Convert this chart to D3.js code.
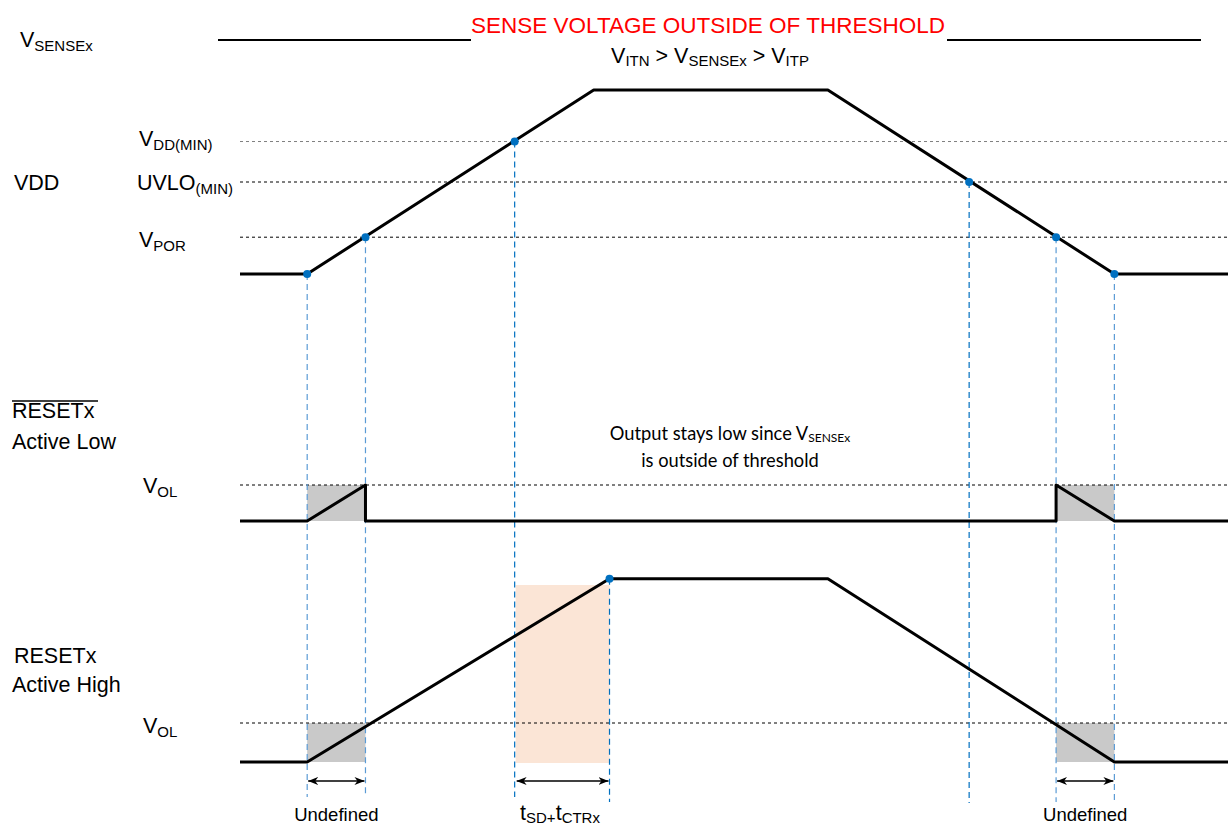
<!DOCTYPE html>
<html>
<head>
<meta charset="utf-8">
<script src="https://cdn.jsdelivr.net/npm/d3@7"></script>
<style>
  body { margin: 0; background: #fff; }
</style>
</head>
<body>
<div id="chart"></div>
<script>
// event times (arbitrary units, 0..100 across the waveform area)
const tStart = 0, tEnd = 100;
const tRampUp = 6.8;       // VDD starts rising
const tPor = 12.7;         // VDD crosses VPOR (rising)
const tVddMin = 27.8;      // VDD crosses VDD(MIN)
const tTop = 35.8;         // VDD reaches full level
const tResetHigh = 37.4;   // RESETx active high reaches top
const tFall = 59.5;        // VDD starts falling
const tUvlo = 73.8;        // VDD crosses UVLO(MIN) (falling)
const tPorDown = 82.6;     // VDD crosses VPOR (falling)
const tOff = 88.5;         // VDD back to 0

// VDD levels (V)
const vddLevels = { VPOR: 1.0, UVLO: 2.5, VDDMIN: 3.6, TOP: 5.0 };
const vddWave = [[tStart, 0], [tRampUp, 0], [tTop, 5.0], [tFall, 5.0], [tOff, 0], [tEnd, 0]];

// RESETx active low (VOL = 1)
const rstLowWave = [[tStart, 0], [tRampUp, 0], [tPor, 1], [tPor, 0], [tPorDown, 0], [tPorDown, 1], [tOff, 0], [tEnd, 0]];
// RESETx active high (VOL = 1, top = 4.7)
const rstHighWave = [[tStart, 0], [tRampUp, 0], [tResetHigh, 4.7], [tFall, 4.7], [tOff, 0], [tEnd, 0]];

const undefinedWindows = [[tRampUp, tPor], [tPorDown, tOff]];
const delayWindow = [27.9, tResetHigh];

const W = 1228, H = 827;
const FONT = '"Liberation Sans", Arimo, Arial, sans-serif';
const svg = d3.select('#chart').append('svg')
  .attr('width', W).attr('height', H)
  .attr('font-family', FONT)
  .style('display', 'block');

const x = d3.scaleLinear().domain([0, 100]).range([240, 1228]);
const yVdd = d3.scaleLinear().domain([0, 5]).range([274, 90]);
const yLow = d3.scaleLinear().domain([0, 1]).range([521, 485]);
const yHigh = d3.scaleLinear().domain([0, 1]).range([762, 723]);

const line = y => d3.line().x(d => x(d[0])).y(d => y(d[1]));

// fills first
const fills = svg.append('g');
fills.append('rect')
  .attr('x', x(delayWindow[0])).attr('width', x(delayWindow[1]) - x(delayWindow[0]))
  .attr('y', 585).attr('height', 178)
  .attr('fill', '#fbe5d6');
undefinedWindows.forEach(w => {
  [yLow, yHigh].forEach(y => {
    fills.append('rect')
      .attr('x', x(w[0])).attr('width', x(w[1]) - x(w[0]))
      .attr('y', y(1)).attr('height', y(0) - y(1))
      .attr('fill', '#c9c9c9');
  });
});

// horizontal dashed threshold lines
const hLines = [
  { y: yVdd(vddLevels.VDDMIN), color: '#7f7f7f' },
  { y: yVdd(vddLevels.UVLO), color: '#000' },
  { y: yVdd(vddLevels.VPOR), color: '#000' },
  { y: yLow(1), color: '#000' },
  { y: yHigh(1), color: '#000' }
];
svg.append('g').selectAll('line').data(hLines).join('line')
  .attr('x1', x(0)).attr('x2', x(100))
  .attr('y1', d => d.y).attr('y2', d => d.y)
  .attr('stroke', d => d.color).attr('stroke-width', 1)
  .attr('stroke-dasharray', '3,3');

// vertical blue dashed markers
const vLines = [
  { t: tRampUp, y1: yVdd(0), y2: 797, c: '#5b9bd5' },
  { t: tPor, y1: yVdd(vddLevels.VPOR), y2: 797, c: '#5b9bd5' },
  { t: tVddMin, y1: yVdd(vddLevels.VDDMIN), y2: 797, c: '#0070c0' },
  { t: tResetHigh, y1: yHigh(4.7), y2: 802, c: '#0070c0' },
  { t: tUvlo, y1: yVdd(vddLevels.UVLO), y2: 803, c: '#0070c0' },
  { t: tPorDown, y1: yVdd(vddLevels.VPOR), y2: 802, c: '#5b9bd5' },
  { t: tOff, y1: yVdd(0), y2: 802, c: '#5b9bd5' }
];
svg.append('g').selectAll('line').data(vLines).join('line')
  .attr('x1', d => x(d.t)).attr('x2', d => x(d.t))
  .attr('y1', d => d.y1).attr('y2', d => d.y2)
  .attr('stroke', d => d.c).attr('stroke-width', 1.2)
  .attr('stroke-dasharray', '6,4');

// waveforms
[[vddWave, yVdd], [rstLowWave, yLow], [rstHighWave, yHigh]].forEach(([wave, y]) => {
  svg.append('path').datum(wave)
    .attr('d', line(y))
    .attr('fill', 'none').attr('stroke', '#000').attr('stroke-width', 3)
    .attr('stroke-linejoin', 'round');
});

// VSENSE line
svg.append('line').attr('x1', 218).attr('x2', 471).attr('y1', 40).attr('y2', 40)
  .attr('stroke', '#000').attr('stroke-width', 2);
svg.append('line').attr('x1', 947).attr('x2', 1201).attr('y1', 40).attr('y2', 40)
  .attr('stroke', '#000').attr('stroke-width', 2);

// dots
const dots = [
  [tRampUp, yVdd(0)], [tPor, yVdd(vddLevels.VPOR)], [tVddMin, yVdd(vddLevels.VDDMIN)],
  [tUvlo, yVdd(vddLevels.UVLO)], [tPorDown, yVdd(vddLevels.VPOR)], [tOff, yVdd(0)],
  [tResetHigh, yHigh(4.7)]
];
svg.append('g').selectAll('circle').data(dots).join('circle')
  .attr('cx', d => x(d[0])).attr('cy', d => d[1]).attr('r', 4)
  .attr('fill', '#0070c0');

// arrows
const defs = svg.append('defs');
['start', 'end'].forEach(k => {
  defs.append('marker').attr('id', 'arr-' + k)
    .attr('viewBox', '0 0 10 10').attr('refX', k === 'end' ? 10 : 0).attr('refY', 5)
    .attr('markerWidth', 10).attr('markerHeight', 10).attr('markerUnits', 'userSpaceOnUse')
    .attr('orient', 'auto')
    .append('path')
    .attr('d', k === 'end' ? 'M0,1 L10,5 L0,9 L3,5 Z' : 'M10,1 L0,5 L10,9 L7,5 Z')
    .attr('fill', '#000');
});
const arrows = [[tRampUp, tPor], [delayWindow[0], tResetHigh], [tPorDown, tOff]];
svg.append('g').selectAll('line').data(arrows).join('line')
  .attr('x1', d => x(d[0]) + 1).attr('x2', d => x(d[1]) - 1)
  .attr('y1', 781).attr('y2', 781)
  .attr('stroke', '#000').attr('stroke-width', 1.3)
  .attr('marker-start', 'url(#arr-start)').attr('marker-end', 'url(#arr-end)');

// text helpers
function label(xp, yp, main, sub, opts = {}) {
  const t = svg.append('text').attr('x', xp).attr('y', yp)
    .attr('font-size', opts.size || 21.5).attr('fill', opts.fill || '#000')
    .attr('text-anchor', opts.anchor || 'start');
  t.append('tspan').text(main);
  if (sub) t.append('tspan').attr('font-size', opts.subSize || 15).attr('dy', 4).text(sub);
  return t;
}

label(20, 47, 'V', 'SENSEx');
svg.append('text').attr('x', 708).attr('y', 33).attr('text-anchor', 'middle')
  .attr('font-size', 22.5).attr('fill', '#ff0000').text('SENSE VOLTAGE OUTSIDE OF THRESHOLD');
const cmp = svg.append('text').attr('x', 710).attr('y', 63).attr('text-anchor', 'middle').attr('font-size', 21.5);
cmp.append('tspan').text('V');
cmp.append('tspan').attr('font-size', 15).attr('dy', 3).text('ITN');
cmp.append('tspan').attr('dy', -3).text(' > V');
cmp.append('tspan').attr('font-size', 15).attr('dy', 3).text('SENSEx');
cmp.append('tspan').attr('dy', -3).text(' > V');
cmp.append('tspan').attr('font-size', 15).attr('dy', 3).text('ITP');

label(14, 190, 'VDD');
label(139, 146, 'V', 'DD(MIN)');
label(137, 190, 'UVLO', '(MIN)');
label(139, 247, 'V', 'POR');

// RESETx active low with overline
svg.append('text').attr('x', 12).attr('y', 418).attr('font-size', 21.5).text('RESETx');
svg.append('line').attr('x1', 12).attr('x2', 98).attr('y1', 401).attr('y2', 401)
  .attr('stroke', '#000').attr('stroke-width', 1.5);
label(12, 449, 'Active Low');
label(143, 493, 'V', 'OL');

const note = svg.append('text').attr('text-anchor', 'middle')
  .attr('font-family', 'Lato, "Open Sans", sans-serif').attr('font-size', 18.3);
const n1 = note.append('tspan').attr('x', 730).attr('y', 440);
n1.append('tspan').text('Output stays low since V');
n1.append('tspan').attr('font-size', 12).attr('dy', 2).text('SENSEx');
note.append('tspan').attr('x', 730).attr('y', 467).text('is outside of threshold');

label(14, 663, 'RESETx');
label(12, 692, 'Active High');
label(143, 733, 'V', 'OL');

// bottom labels
svg.append('text').attr('x', x(9.75)).attr('y', 821).attr('text-anchor', 'middle')
  .attr('font-size', 18.5).text('Undefined');
svg.append('text').attr('x', x(85.55)).attr('y', 821).attr('text-anchor', 'middle')
  .attr('font-size', 18.5).text('Undefined');
const td = svg.append('text').attr('x', 560).attr('y', 820).attr('text-anchor', 'middle').attr('font-size', 21.5);
td.append('tspan').text('t');
td.append('tspan').attr('font-size', 15).attr('dy', 3).text('SD+');
td.append('tspan').attr('dy', -3).text('t');
td.append('tspan').attr('font-size', 15).attr('dy', 3).text('CTRx');
</script>
</body>
</html>
